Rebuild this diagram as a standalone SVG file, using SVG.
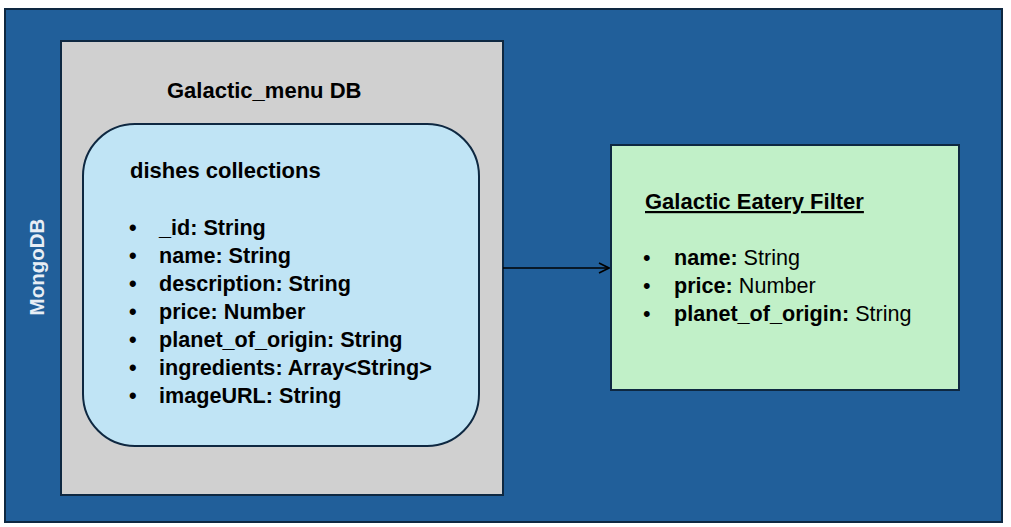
<svg xmlns="http://www.w3.org/2000/svg" width="1011" height="527" viewBox="0 0 1011 527">
<style>
.box{stroke:#0E2841;stroke-width:2}
.t{font-family:"Liberation Sans",Arial,sans-serif;font-size:21.6px;fill:#000}
.h{font-size:22px}
.b{font-weight:bold}
.conn{stroke:#000;stroke-width:1.6;fill:none}
</style>
<defs>
<marker id="arr" viewBox="0 0 12 12" refX="11" refY="6" markerWidth="12" markerHeight="12" markerUnits="userSpaceOnUse" orient="auto">
<path d="M1,1 L11,6 L1,11" fill="none" stroke="#000" stroke-width="1.6"/>
</marker>
</defs>
<rect width="1011" height="527" fill="#fff"/>
<g id="mongodb">
<rect class="box" x="5" y="9" width="997" height="513" fill="#215F9A"/>
<text class="t b" transform="translate(44,267) rotate(-90)" text-anchor="middle" style="font-size:20.5px;fill:#E8EEF5">MongoDB</text>
</g>
<g id="galactic-menu-db">
<rect class="box" x="61" y="41" width="442" height="454" fill="#D0D0D0"/>
<text class="t b h" x="167" y="98">Galactic_menu DB</text>
</g>
<g id="dishes-collection">
<rect class="box" x="83" y="124" width="396" height="322" rx="52" ry="52" fill="#C0E4F5"/>
<text class="t b h" x="130" y="178">dishes collections</text>
<g class="t b">
<text x="129" y="235">•</text><text x="159" y="235">_id: String</text>
<text x="129" y="263">•</text><text x="159" y="263">name: String</text>
<text x="129" y="291">•</text><text x="159" y="291">description: String</text>
<text x="129" y="319">•</text><text x="159" y="319">price: Number</text>
<text x="129" y="347">•</text><text x="159" y="347">planet_of_origin: String</text>
<text x="129" y="375">•</text><text x="159" y="375">ingredients: Array&lt;String&gt;</text>
<text x="129" y="403">•</text><text x="159" y="403">imageURL: String</text>
</g>
</g>
<g id="galactic-eatery-filter">
<rect class="box" x="611" y="145" width="348" height="245" fill="#C1F0C8"/>
<text class="t b h" x="645" y="209" text-decoration="underline">Galactic Eatery Filter</text>
<g class="t">
<text x="643" y="265">•</text><text x="674" y="265"><tspan class="b">name:</tspan> String</text>
<text x="643" y="293">•</text><text x="674" y="293"><tspan class="b">price:</tspan> Number</text>
<text x="643" y="321">•</text><text x="674" y="321"><tspan class="b">planet_of_origin:</tspan> String</text>
</g>
</g>
<g id="connectors">
<line class="conn" x1="503" y1="268" x2="609" y2="268" marker-end="url(#arr)"/>
</g>
</svg>
